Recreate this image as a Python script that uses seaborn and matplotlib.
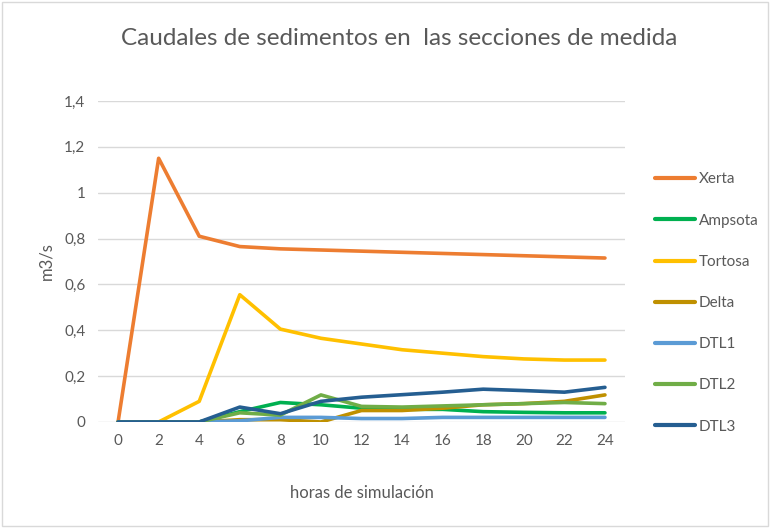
import pandas as pd
import matplotlib.pyplot as plt
import seaborn as sns
from matplotlib.patches import Rectangle

horas = [0, 2, 4, 6, 8, 10, 12, 14, 16, 18, 20, 22, 24]
xerta = [0, 1.15, 0.81, 0.765, 0.755, 0.75, 0.745, 0.74, 0.735, 0.73, 0.725, 0.72, 0.715]
ampsota = [0, 0, 0, 0.045, 0.085, 0.075, 0.06, 0.055, 0.055, 0.045, 0.042, 0.04, 0.04]
tortosa = [0, 0, 0.09, 0.555, 0.405, 0.365, 0.34, 0.315, 0.30, 0.285, 0.275, 0.27, 0.27]
delta = [0, 0, 0, 0.01, 0.01, 0.0, 0.05, 0.05, 0.06, 0.075, 0.08, 0.09, 0.118]
dtl1 = [0, 0, 0, 0.005, 0.02, 0.02, 0.015, 0.015, 0.02, 0.02, 0.02, 0.02, 0.02]
dtl2 = [0, 0, 0, 0.04, 0.03, 0.118, 0.068, 0.065, 0.07, 0.075, 0.08, 0.085, 0.08]
dtl3 = [0, 0, 0, 0.065, 0.036, 0.09, 0.108, 0.119, 0.13, 0.143, 0.137, 0.13, 0.151]

series = ['Xerta', 'Ampsota', 'Tortosa', 'Delta', 'DTL1', 'DTL2', 'DTL3']
colors = ['#ED7D31', '#00B050', '#FFC000', '#BF9000', '#5B9BD5', '#70AD47', '#255E91']
values = [xerta, ampsota, tortosa, delta, dtl1, dtl2, dtl3]

df = pd.DataFrame([(s, h, v) for s, vals in zip(series, values) for h, v in zip(horas, vals)],
                  columns=['serie', 'horas', 'caudal'])

sns.set_style('white')
plt.rcParams['font.family'] = ['Lato', 'DejaVu Sans']
grey = '#595959'

fig = plt.figure(figsize=(7.7, 5.28), dpi=100)
ax = fig.add_axes([0.127, 0.2008, 0.685, 0.608])

sns.lineplot(data=df, x='horas', y='caudal', hue='serie', hue_order=series,
             palette=dict(zip(series, colors)), linewidth=2.6, ax=ax)

ax.set_xlim(-1, 25)
ax.set_ylim(0, 1.4)
ax.set_xticks(horas)
ax.set_xticklabels([str(h) for h in horas])
yt = [0, 0.2, 0.4, 0.6, 0.8, 1.0, 1.2, 1.4]
ax.set_yticks(yt)
ax.set_yticklabels(['0', '0,2', '0,4', '0,6', '0,8', '1', '1,2', '1,4'])
ax.tick_params(colors=grey, labelsize=11, length=0, pad=9)
ax.grid(axis='y', color='#D9D9D9', linewidth=1)
ax.set_axisbelow(True)
for sp in ax.spines.values():
    sp.set_visible(False)

ax.set_xlabel('horas de simulación', fontsize=12, color=grey, labelpad=26)
ax.set_ylabel('m3/s', fontsize=12, color=grey, labelpad=7)

fig.text(0.518, 0.928, 'Caudales de sedimentos en  las secciones de medida',
         ha='center', va='center', fontsize=17.5, color=grey)

leg = ax.legend(loc='upper left', bbox_to_anchor=(1.03, 0.82), frameon=False,
                fontsize=11, labelspacing=1.78, handlelength=2.6, handletextpad=0.3)
for t in leg.get_texts():
    t.set_color(grey)
for h in leg.get_lines():
    h.set_linewidth(3)

fig.add_artist(Rectangle((0.003, 0.003), 0.994, 0.994, transform=fig.transFigure,
                         fill=False, edgecolor='#D9D9D9', linewidth=1))

fig.savefig('out.png', dpi=100)
